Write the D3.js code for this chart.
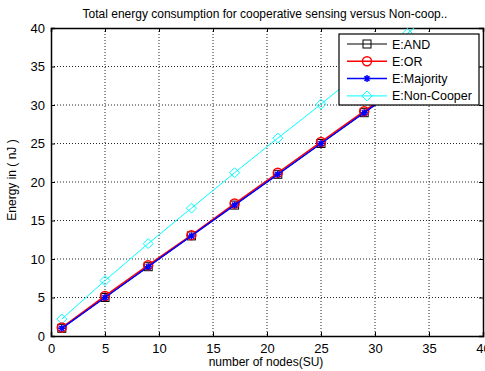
<!DOCTYPE html>
<html>
<head>
<meta charset="utf-8">
<script src="https://cdn.jsdelivr.net/npm/d3@7"></script>
<style>
  html, body { margin: 0; padding: 0; background: #fff; }
  svg { display: block; font-family: "Liberation Sans", Arial, sans-serif; }
</style>
</head>
<body>
<svg id="chart" width="485" height="371"></svg>
<script>
// Number of secondary users (nodes)
const nodes = [1, 5, 9, 13, 17, 21, 25, 29, 33, 37];
// Total energy (nJ) per fusion rule
const energyAND = [1, 5, 9, 13, 17, 21, 25, 29, 33, 37];
const energyOR = [1.1, 5.2, 9.2, 13.1, 17.2, 21.2, 25.2, 29.2, 33.2, 37.2];
const energyMajority = [1, 5, 9, 13, 17, 21, 25, 29, 33, 37];
const energyNonCoop = [2.2, 7.2, 12, 16.6, 21.2, 25.7, 30.1, 34.7, 39.3, 43.9];

const xTicks = [0, 5, 10, 15, 20, 25, 30, 35, 40];
const yTicks = [0, 5, 10, 15, 20, 25, 30, 35, 40];

const seriesNames = ["E:AND", "E:OR", "E:Majority", "E:Non-Cooper"];

const svg = d3.select("#chart");
const m = { left: 51, right: 483, top: 28, bottom: 336 };

const x = d3.scaleLinear().domain([0, 40]).range([m.left, m.right]);
const y = d3.scaleLinear().domain([0, 40]).range([m.bottom, m.top]);

// Title
svg.append("text")
  .attr("x", 265)
  .attr("y", 18)
  .attr("text-anchor", "middle")
  .style("font-size", "12px")
  .text("Total energy consumption for cooperative sensing versus Non-coop..");

// Dotted grid
const grid = svg.append("g").attr("stroke", "#000").attr("stroke-width", 1)
  .attr("stroke-dasharray", "1,2").attr("opacity", 0.85);
xTicks.slice(1, -1).forEach(t => {
  grid.append("line").attr("x1", x(t)).attr("x2", x(t)).attr("y1", m.top).attr("y2", m.bottom);
});
yTicks.slice(1, -1).forEach(t => {
  grid.append("line").attr("x1", m.left).attr("x2", m.right).attr("y1", y(t)).attr("y2", y(t));
});

// Axes with inward ticks
const xAxis = svg.append("g").attr("transform", `translate(0,${m.bottom})`)
  .call(d3.axisBottom(x).tickValues(xTicks).tickSize(-4).tickPadding(8).tickFormat(d3.format("d")));
const xTop = svg.append("g").attr("transform", `translate(0,${m.top})`)
  .call(d3.axisTop(x).tickValues(xTicks).tickSize(-4).tickFormat(""));
const yAxis = svg.append("g").attr("transform", `translate(${m.left},0)`)
  .call(d3.axisLeft(y).tickValues(yTicks).tickSize(-4).tickPadding(6).tickFormat(d3.format("d")));
const yRight = svg.append("g").attr("transform", `translate(${m.right},0)`)
  .call(d3.axisRight(y).tickValues(yTicks).tickSize(-4).tickFormat(""));
[xAxis, xTop, yAxis, yRight].forEach(g => {
  g.select(".domain").attr("stroke", "#000").attr("stroke-width", 1.5);
  g.selectAll(".tick line").attr("stroke", "#000");
  g.selectAll("text").style("font-size", "13px").attr("fill", "#000").style("font-family", "Liberation Sans, Arial, sans-serif");
});

// Axis labels
svg.append("text")
  .attr("x", (m.left + m.right) / 2 - 1)
  .attr("y", 366)
  .attr("text-anchor", "middle")
  .style("font-size", "12px")
  .text("number of nodes(SU)");
svg.append("text")
  .attr("transform", `translate(16,${(m.top + m.bottom) / 2 - 2}) rotate(-90)`)
  .attr("text-anchor", "middle")
  .style("font-size", "12px")
  .text("Energy in ( nJ )");

// Clip data to the axes box
svg.append("clipPath").attr("id", "plotclip")
  .append("rect").attr("x", m.left).attr("y", m.top)
  .attr("width", m.right - m.left).attr("height", m.bottom - m.top);

const plot = svg.append("g").attr("clip-path", "url(#plotclip)");

const series = [
  { name: seriesNames[3], values: energyNonCoop, color: "#00ffff", width: 1, marker: "diamond" },
  { name: seriesNames[0], values: energyAND, color: "#000000", width: 1, marker: "square" },
  { name: seriesNames[1], values: energyOR, color: "#ff0000", width: 1.5, marker: "circle" },
  { name: seriesNames[2], values: energyMajority, color: "#0000ff", width: 1.5, marker: "star" }
];

const line = d3.line().x((d, i) => x(nodes[i])).y(d => y(d));

function drawMarker(g, type, cx, cy, color) {
  if (type === "square") {
    g.append("rect").attr("x", cx - 4).attr("y", cy - 4).attr("width", 8).attr("height", 8)
      .attr("fill", "none").attr("stroke", color).attr("stroke-width", 1);
  } else if (type === "circle") {
    g.append("circle").attr("cx", cx).attr("cy", cy).attr("r", 4.5)
      .attr("fill", "none").attr("stroke", color).attr("stroke-width", 1.5);
  } else if (type === "diamond") {
    g.append("path").attr("d", `M${cx},${cy - 5}L${cx + 5},${cy}L${cx},${cy + 5}L${cx - 5},${cy}Z`)
      .attr("fill", "none").attr("stroke", color).attr("stroke-width", 1);
  } else if (type === "star") {
    const r = 3.5;
    const p = `M${cx - r},${cy}L${cx + r},${cy}M${cx},${cy - r}L${cx},${cy + r}` +
      `M${cx - r * 0.7},${cy - r * 0.7}L${cx + r * 0.7},${cy + r * 0.7}` +
      `M${cx - r * 0.7},${cy + r * 0.7}L${cx + r * 0.7},${cy - r * 0.7}`;
    g.append("path").attr("d", p).attr("stroke", color).attr("stroke-width", 1.5).attr("fill", "none");
  }
}

series.forEach(s => {
  plot.append("path").datum(s.values).attr("d", line)
    .attr("fill", "none").attr("stroke", s.color).attr("stroke-width", s.width);
  const mg = plot.append("g");
  s.values.forEach((v, i) => drawMarker(mg, s.marker, x(nodes[i]), y(v), s.color));
});

// Legend
const lg = svg.append("g");
const lx = 339, ly = 34, lw = 140, lh = 71;
lg.append("rect").attr("x", lx).attr("y", ly).attr("width", lw).attr("height", lh)
  .attr("fill", "#fff").attr("stroke", "#000").attr("stroke-width", 1.2);
const legendOrder = [series[1], series[2], series[3], series[0]];
legendOrder.forEach((s, i) => {
  const yy = ly + 10 + i * 17.3;
  lg.append("line").attr("x1", lx + 8).attr("x2", lx + 48).attr("y1", yy).attr("y2", yy)
    .attr("stroke", s.color).attr("stroke-width", s.width);
  drawMarker(lg, s.marker, lx + 28, yy, s.color);
  lg.append("text").attr("x", lx + 53).attr("y", yy + 4.5)
    .style("font-size", "12.5px").text(s.name);
});
</script>
</body>
</html>
